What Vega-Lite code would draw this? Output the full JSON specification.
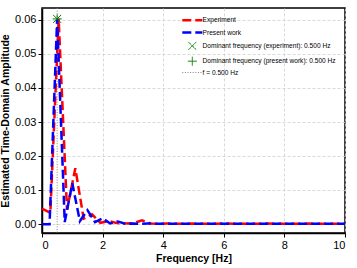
{
  "$schema": "https://vega.github.io/schema/vega-lite/v6.json",
  "width": 303,
  "height": 225,
  "autosize": {"type": "none"},
  "padding": {"left": 42, "top": 8, "right": 12, "bottom": 35},
  "background": "white",
  "config": {
    "font": "Liberation Sans",
    "view": {"stroke": "black", "strokeWidth": 1.5},
    "axis": {
      "domainColor": "black", "domainWidth": 1.5,
      "tickColor": "black", "tickSize": 4, "tickWidth": 1,
      "labelColor": "black", "labelFontSize": 11, "labelFont": "Liberation Sans",
      "titleColor": "black", "titleFontSize": 10.5, "titleFontWeight": "bold", "titleFont": "Liberation Sans",
      "gridColor": "#cfcfcf", "gridDash": [3, 2], "gridWidth": 0.8
    },
    "legend": {
      "orient": "none", "legendX": 147, "legendY": 9,
      "labelFontSize": 6.6, "labelLimit": 300, "labelFont": "Liberation Sans", "labelColor": "black",
      "symbolSize": 400, "rowPadding": 1.3, "labelOffset": 7, "symbolType": "stroke"
    }
  },
  "datasets": {
    "exp": [
      {"f": 0, "a": 0.0046}, {"f": 0.275, "a": 0.0033}, {"f": 0.55, "a": 0.0603}, {"f": 0.825, "a": 0.0042},
      {"f": 1.1, "a": 0.0164}, {"f": 1.375, "a": 0.0016}, {"f": 1.65, "a": 0.0029}, {"f": 1.925, "a": 0.0004},
      {"f": 2.2, "a": 0.0009}, {"f": 2.475, "a": 0.0003}, {"f": 2.75, "a": 0.0002}, {"f": 3.025, "a": 0.0003},
      {"f": 3.3, "a": 0.0011}, {"f": 3.575, "a": 0.0002}, {"f": 3.85, "a": 0.0001}, {"f": 4.125, "a": 0.0002},
      {"f": 4.4, "a": 0.0001}, {"f": 4.675, "a": 0.0001}, {"f": 4.95, "a": 0.0002}, {"f": 5.225, "a": 0.0001},
      {"f": 5.5, "a": 0.0001}, {"f": 5.775, "a": 0.0001}, {"f": 6.05, "a": 0.0002}, {"f": 6.325, "a": 0.0001},
      {"f": 6.6, "a": 0.0001}, {"f": 6.875, "a": 0.0001}, {"f": 7.15, "a": 0.0001}, {"f": 7.425, "a": 0.0002},
      {"f": 7.7, "a": 0.0001}, {"f": 7.975, "a": 0.0001}, {"f": 8.25, "a": 0.0001}, {"f": 8.525, "a": 0.0001},
      {"f": 8.8, "a": 0.0002}, {"f": 9.075, "a": 0.0001}, {"f": 9.35, "a": 0.0001}, {"f": 9.625, "a": 0.0001},
      {"f": 9.9, "a": 0.0001}, {"f": 10.175, "a": 0.0001}
    ],
    "pres": [
      {"f": 0, "a": 0}, {"f": 0.25, "a": 0}, {"f": 0.5, "a": 0.0603}, {"f": 0.75, "a": 0.0006},
      {"f": 1.0, "a": 0.012}, {"f": 1.25, "a": 0.0009}, {"f": 1.5, "a": 0.0041}, {"f": 1.75, "a": 0.0006},
      {"f": 2.0, "a": 0.0017}, {"f": 2.25, "a": 0.0002}, {"f": 2.5, "a": 0.0008}, {"f": 2.75, "a": 0.0001},
      {"f": 3.0, "a": 0.0002}, {"f": 3.25, "a": 0.0001}, {"f": 3.5, "a": 0.0002}, {"f": 3.75, "a": 0.0001},
      {"f": 4.0, "a": 0.0001}, {"f": 4.25, "a": 0.0001}, {"f": 4.5, "a": 0.0001}, {"f": 4.75, "a": 0.0001},
      {"f": 5.0, "a": 0.0001}, {"f": 5.25, "a": 0.0001}, {"f": 5.5, "a": 0.0001}, {"f": 5.75, "a": 0.0001},
      {"f": 6.0, "a": 0.0001}, {"f": 6.25, "a": 0.0001}, {"f": 6.5, "a": 0.0001}, {"f": 6.75, "a": 0.0001},
      {"f": 7.0, "a": 0.0001}, {"f": 7.25, "a": 0.0001}, {"f": 7.5, "a": 0.0001}, {"f": 7.75, "a": 0.0001},
      {"f": 8.0, "a": 0.0001}, {"f": 8.25, "a": 0.0001}, {"f": 8.5, "a": 0.0001}, {"f": 8.75, "a": 0.0001},
      {"f": 9.0, "a": 0.0001}, {"f": 9.25, "a": 0.0001}, {"f": 9.5, "a": 0.0001}, {"f": 9.75, "a": 0.0001},
      {"f": 10.0, "a": 0.0001}
    ],
    "domx": [{"f": 0.5, "a": 0.0603, "s": "Dominant frequency (experiment): 0.500 Hz"}],
    "domp": [{"f": 0.5, "a": 0.0603, "s": "Dominant frequency (present work): 0.500 Hz"}],
    "vline": [{"f": 0.5, "s": "f = 0.500 Hz"}]
  },
  "encoding": {
    "x": {"field": "f", "type": "quantitative", "scale": {"domain": [0, 10], "nice": false, "zero": false},
          "axis": {"title": "Frequency [Hz]", "values": [0, 2, 4, 6, 8, 10], "labelPadding": 2, "titlePadding": 3}},
    "y": {"field": "a", "type": "quantitative", "scale": {"domain": [-0.0026, 0.0635], "nice": false, "zero": false},
          "axis": {"title": "Estimated Time-Domain Amplitude", "values": [0, 0.01, 0.02, 0.03, 0.04, 0.05, 0.06], "format": ".2f", "labelPadding": 2, "titlePadding": 4}}
  },
  "resolve": {"scale": {"color": "shared", "shape": "shared", "strokeDash": "shared"}},
  "layer": [
    {
      "data": {"name": "vline"},
      "mark": {"type": "rule", "clip": true, "strokeWidth": 1},
      "encoding": {
        "y": null,
        "color": {"field": "s", "type": "nominal",
          "scale": {"domain": ["Experiment", "Present work", "Dominant frequency (experiment): 0.500 Hz", "Dominant frequency (present work): 0.500 Hz", "f = 0.500 Hz"], "range": ["#ff0000", "#0000ff", "#008000", "#008000", "#808080"]},
          "legend": {"title": null, "values": ["Experiment", "Present work", "Dominant frequency (experiment): 0.500 Hz", "Dominant frequency (present work): 0.500 Hz", "f = 0.500 Hz"],
            "encode": {"symbols": {"update": {
              "shape": {"scale": "shape", "field": "value"},
              "strokeDash": {"scale": "strokeDash", "field": "value"},
              "stroke": {"scale": "color", "field": "value"},
              "fill": {"value": "transparent"},
              "strokeWidth": {"signal": "datum.value === 'Experiment' || datum.value === 'Present work' ? 2.5 : 1"}
            }}}}},
        "strokeDash": {"field": "s", "type": "nominal",
          "scale": {"domain": ["Experiment", "Present work", "Dominant frequency (experiment): 0.500 Hz", "Dominant frequency (present work): 0.500 Hz", "f = 0.500 Hz"], "range": [[9, 4], [9, 4], [1, 0], [1, 0], [1, 1.6]]}, "legend": null}
      }
    },
    {
      "data": {"name": "domp"},
      "mark": {"type": "point", "filled": false, "size": 400, "opacity": 1, "strokeWidth": 1},
      "encoding": {
        "color": {"field": "s", "type": "nominal"},
        "shape": {"field": "s", "type": "nominal",
          "scale": {"domain": ["Experiment", "Present work", "Dominant frequency (experiment): 0.500 Hz", "Dominant frequency (present work): 0.500 Hz", "f = 0.500 Hz"], "range": ["stroke", "stroke", "M-0.4,-0.4L0.4,0.4M-0.4,0.4L0.4,-0.4", "M-0.45,0L0.45,0M0,-0.45L0,0.45", "stroke"]}, "legend": null}
      }
    },
    {
      "data": {"name": "exp"},
      "transform": [{"calculate": "'Experiment'", "as": "s"}],
      "mark": {"type": "line", "clip": true, "strokeWidth": 2.5},
      "encoding": {
        "color": {"field": "s", "type": "nominal"},
        "strokeDash": {"field": "s", "type": "nominal", "legend": null}
      }
    },
    {
      "data": {"name": "pres"},
      "transform": [{"calculate": "'Present work'", "as": "s"}],
      "mark": {"type": "line", "clip": true, "strokeWidth": 2.5},
      "encoding": {
        "color": {"field": "s", "type": "nominal"},
        "strokeDash": {"field": "s", "type": "nominal", "legend": null}
      }
    },
    {
      "data": {"name": "domx"},
      "mark": {"type": "point", "filled": false, "size": 400, "opacity": 1, "strokeWidth": 1},
      "encoding": {
        "color": {"field": "s", "type": "nominal"},
        "shape": {"field": "s", "type": "nominal", "legend": null}
      }
    }
  ]
}
